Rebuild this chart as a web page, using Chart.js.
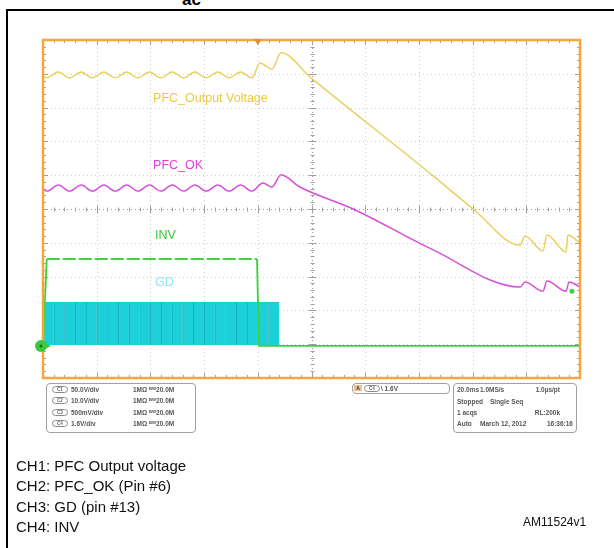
<!DOCTYPE html>
<html>
<head>
<meta charset="utf-8">
<script src="https://cdn.jsdelivr.net/npm/chart.js@4.4.1/dist/chart.umd.min.js"></script>
<style>
  html, body { margin: 0; padding: 0; background: #fff; }
  #page { position: relative; width: 614px; height: 548px; overflow: hidden; font-family: "Liberation Sans", Arial, sans-serif; }
  #scope { position: absolute; left: 0; top: 0; }
  .rule { position: absolute; background: #000; }
  .box { position: absolute; border: 1.5px solid #a0a0a0; border-radius: 4px; box-sizing: border-box; }
  .tiny { position: absolute; font-size: 6.5px; font-weight: bold; color: #555; white-space: nowrap; line-height: 7px; }
  .pill { position: absolute; width: 16px; height: 7px; border: 1px solid #8a8a8a; border-radius: 4px; box-sizing: border-box;
          font-size: 4.5px; font-weight: bold; color: #666; line-height: 5px; text-align: center; }
  .note { position: absolute; left: 16px; font-size: 15px; color: #111; white-space: nowrap; line-height: 20px; }
</style>
</head>
<body>
<div id="page">
  <div class="rule" style="left:6px; top:9px; width:608px; height:2px;"></div>
  <div class="rule" style="left:6px; top:9px; width:2px; height:539px;"></div>
  <div style="position:absolute; left:182px; top:-9px; font-size:17px; font-weight:bold; line-height:17px;">ac</div>

  <canvas id="scope" width="614" height="548"></canvas>

  <!-- channel settings -->
  <div class="box" style="left:46px; top:383px; width:150px; height:50px;"></div>
  <div class="pill" style="left:52px; top:386px;">C1</div>
  <div class="pill" style="left:52px; top:397px;">C2</div>
  <div class="pill" style="left:52px; top:409px;">C3</div>
  <div class="pill" style="left:52px; top:420px;">C4</div>
  <div class="tiny" style="left:71px; top:386px;">50.0V/div</div>
  <div class="tiny" style="left:71px; top:397px;">10.0V/div</div>
  <div class="tiny" style="left:71px; top:409px;">500mV/div</div>
  <div class="tiny" style="left:71px; top:420px;">1.6V/div</div>
  <div class="tiny" style="left:133px; top:386px;">1MΩ ᴮᵂ20.0M</div>
  <div class="tiny" style="left:133px; top:397px;">1MΩ ᴮᵂ20.0M</div>
  <div class="tiny" style="left:133px; top:409px;">1MΩ ᴮᵂ20.0M</div>
  <div class="tiny" style="left:133px; top:420px;">1MΩ ᴮᵂ20.0M</div>

  <!-- trigger -->
  <div class="box" style="left:352px; top:383px; width:98px; height:11px;"></div>
  <div class="tiny" style="left:354px; top:385px; width:8px; height:6px; background:#f0c090; color:#333; text-align:center; line-height:6px; font-size:5px;">A</div>
  <div class="pill" style="left:364px; top:385px;">C4</div>
  <div class="tiny" style="left:381px; top:385px;">\ 1.6V</div>

  <!-- acquisition -->
  <div class="box" style="left:453px; top:383px; width:124px; height:50px;"></div>
  <div class="tiny" style="left:457px; top:386px;">20.0ms</div>
  <div class="tiny" style="left:480px; top:386px;">1.0MS/s</div>
  <div class="tiny" style="left:535px; top:386px; width:25px; text-align:right;">1.0µs/pt</div>
  <div class="tiny" style="left:457px; top:398px;">Stopped</div>
  <div class="tiny" style="left:490px; top:398px;">Single Seq</div>
  <div class="tiny" style="left:457px; top:409px;">1 acqs</div>
  <div class="tiny" style="left:530px; top:409px; width:30px; text-align:right;">RL:200k</div>
  <div class="tiny" style="left:457px; top:420px;">Auto</div>
  <div class="tiny" style="left:480px; top:420px;">March 12, 2012</div>
  <div class="tiny" style="left:543px; top:420px; width:30px; text-align:right;">16:36:16</div>

  <div class="note" style="top:456px;">CH1: PFC Output voltage</div>
  <div class="note" style="top:476px;">CH2: PFC_OK (Pin #6)</div>
  <div class="note" style="top:497px;">CH3: GD (pin #13)</div>
  <div class="note" style="top:517px;">CH4: INV</div>
  <div style="position:absolute; left:523px; top:515px; font-size:12px; line-height:14px; color:#111;">AM11524v1</div>
</div>

<script>
// time in ms (20 ms/div, trigger at 0), levels in screen divisions (0 = centre line)
const ch1Time = [-80, -78.6, -74.3, -70.1, -65.8, -61.6, -57.3, -53.1, -48.8, -44.7, -40.3, -36.2, -31.8,
                 -27.7, -23.4, -19.2, -14.9, -10.7, -6.4, -2.2, 0.8, 5.3, 8.6, 19.8, 65.3, 80.2, 97.7,
                 99.5, 106.2, 107.7, 114.8, 115.5, 120];
const ch1Div  = [3.93, 3.88, 4.05, 3.88, 4.05, 3.88, 4.05, 3.88, 4.05, 3.88, 4.05, 3.88, 4.05,
                 3.88, 4.05, 3.88, 4.05, 3.88, 4.05, 3.88, 4.32, 4.14, 4.62, 3.88, 0.98, 0, -1.07,
                 -0.80, -1.24, -0.77, -1.27, -0.77, -1.01];

const ch2Time = [-80, -78.6, -74.3, -70.1, -65.8, -61.6, -57.3, -53.1, -48.8, -44.7, -40.3, -36.2, -31.8,
                 -27.7, -23.4, -19.2, -14.9, -10.7, -6.4, -2.2, 1.9, 5.3, 8.6, 15.7, 35.5, 65.3, 97.7,
                 99.5, 106.2, 107.7, 114.8, 115.9, 120];
const ch2Div  = [0.60, 0.53, 0.71, 0.53, 0.71, 0.53, 0.71, 0.53, 0.71, 0.53, 0.71, 0.53, 0.71,
                 0.53, 0.71, 0.53, 0.71, 0.53, 0.71, 0.53, 0.77, 0.65, 1.01, 0.65, 0, -1.21, -2.31,
                 -2.16, -2.43, -2.13, -2.43, -2.16, -2.31];

const ch3Time = [-78, -74, -70, -66, -62, -58, -54, -50, -46, -42, -38, -34, -30, -26, -22, -18, -14, -10, -6, -2, 2, 6];
const ch3Low = -4.02;
const ch3High = -2.75;

const ch4Time = [-80, -78.6, -0.3, 0.4, 120];
const ch4Div  = [-4.05, -1.48, -1.48, -4.05, -4.05];

const xTicks = [-80, -60, -40, -20, 0, 20, 40, 60, 80, 100, 120];
const yTicks = [-5, -4, -3, -2, -1, 0, 1, 2, 3, 4, 5];

const pts = (xs, ys) => xs.map((t, i) => ({ x: t, y: ys[i] }));

const traceLabels = [
  { text: 'PFC_Output Voltage', x: -39, y: 3.28, color: '#EDC845' },
  { text: 'PFC_OK', x: -39, y: 1.30, color: '#DA3FDA' },
  { text: 'INV', x: -38.3, y: -0.80, color: '#3CC43C' },
  { text: 'GD', x: -38.3, y: -2.19, color: '#8FE6EE' }
];

const scopeFrame = {
  id: 'scopeFrame',
  beforeDatasetsDraw(chart) {
    const { ctx, chartArea: a, scales: { x, y } } = chart;
    const line = (x1, y1, x2, y2) => { ctx.beginPath(); ctx.moveTo(x1, y1); ctx.lineTo(x2, y2); ctx.stroke(); };
    ctx.save();
    ctx.lineWidth = 1;
    ctx.strokeStyle = 'rgba(170,170,170,0.55)';
    ctx.setLineDash([1, 3]);
    xTicks.slice(1, -1).forEach(t => { const p = Math.round(x.getPixelForValue(t)) + 0.5; line(p, a.top, p, a.bottom); });
    yTicks.slice(1, -1).forEach(v => { const p = Math.round(y.getPixelForValue(v)) + 0.5; line(a.left, p, a.right, p); });
    // centre cross
    ctx.strokeStyle = 'rgba(140,140,140,0.8)';
    const cx = Math.round(x.getPixelForValue(20)) + 0.5;
    const cy = Math.round(y.getPixelForValue(0)) + 0.5;
    line(cx, a.top, cx, a.bottom);
    line(a.left, cy, a.right, cy);
    ctx.setLineDash([]);
    ctx.strokeStyle = 'rgba(150,150,150,0.9)';
    for (let t = -80; t <= 120; t += 4) {
      const p = Math.round(x.getPixelForValue(t)) + 0.5;
      const major = (t + 80) % 20 === 0;
      line(p, cy - (major ? 4 : 2), p, cy + (major ? 4 : 2));
      line(p, a.top, p, a.top + (major ? 5 : 3));
      line(p, a.bottom, p, a.bottom - (major ? 5 : 3));
    }
    for (let v = -5; v <= 5.001; v += 0.2) {
      const p = Math.round(y.getPixelForValue(v)) + 0.5;
      const major = Math.abs(v - Math.round(v)) < 0.01;
      line(cx - (major ? 4 : 2), p, cx + (major ? 4 : 2), p);
      line(a.left, p, a.left + (major ? 5 : 3), p);
      line(a.right, p, a.right - (major ? 5 : 3), p);
    }
    ctx.restore();
  },
  afterDatasetsDraw(chart) {
    const { ctx, chartArea: a, scales: { x, y } } = chart;
    ctx.save();
    ctx.strokeStyle = '#F3A73C';
    ctx.lineWidth = 2.5;
    ctx.strokeRect(a.left, a.top, a.right - a.left, a.bottom - a.top);
    // trigger position
    const tx = x.getPixelForValue(0);
    ctx.fillStyle = '#E8902A';
    ctx.beginPath();
    ctx.moveTo(tx - 4, a.top - 1); ctx.lineTo(tx + 4, a.top - 1); ctx.lineTo(tx, a.top + 5);
    ctx.fill();
    // ground marker of CH4
    const gy = y.getPixelForValue(-4.05);
    ctx.fillStyle = '#3CC83C';
    ctx.beginPath(); ctx.arc(a.left - 2, gy, 6, 0, Math.PI * 2); ctx.fill();
    ctx.beginPath(); ctx.moveTo(a.left + 2, gy - 3); ctx.lineTo(a.left + 8, gy); ctx.lineTo(a.left + 2, gy + 3); ctx.fill();
    ctx.fillStyle = '#1d6e1d';
    ctx.beginPath(); ctx.arc(a.left - 2, gy, 1.5, 0, Math.PI * 2); ctx.fill();
    // trigger level dot
    ctx.fillStyle = '#3CD23C';
    ctx.beginPath(); ctx.arc(x.getPixelForValue(117), y.getPixelForValue(-2.43), 2.5, 0, Math.PI * 2); ctx.fill();
    // trace names
    ctx.font = '12.5px "Liberation Sans", Arial, sans-serif';
    ctx.textBaseline = 'middle';
    traceLabels.forEach(l => {
      ctx.fillStyle = l.color;
      ctx.fillText(l.text, x.getPixelForValue(l.x), y.getPixelForValue(l.y));
    });
    ctx.restore();
  }
};

new Chart(document.getElementById('scope'), {
  type: 'line',
  data: {
    datasets: [
      {
        type: 'bar',
        label: 'CH3: GD',
        data: ch3Time.map(t => ({ x: t, y: [ch3Low, ch3High] })),
        backgroundColor: '#1CCFD9',
        borderColor: '#12B0BD',
        borderWidth: { left: 1, right: 0, top: 0, bottom: 0 },
        borderSkipped: false,
        barPercentage: 1,
        categoryPercentage: 1,
        grouped: false,
        order: 4
      },
      {
        label: 'CH4: INV',
        data: pts(ch4Time, ch4Div),
        borderColor: '#3DD13D',
        borderWidth: 1.8,
        pointRadius: 0,
        tension: 0,
        segment: {
          borderDash: c => (c.p0.parsed.y > -3 && c.p1.parsed.y > -3 ? [13, 3] : undefined)
        },
        order: 1
      },
      {
        label: 'CH1: PFC Output voltage',
        data: pts(ch1Time, ch1Div),
        borderColor: '#E8D060',
        borderWidth: 1.5,
        pointRadius: 0,
        cubicInterpolationMode: 'monotone',
        order: 2
      },
      {
        label: 'CH2: PFC_OK',
        data: pts(ch2Time, ch2Div),
        borderColor: '#D850D8',
        borderWidth: 1.5,
        pointRadius: 0,
        cubicInterpolationMode: 'monotone',
        order: 3
      }
    ]
  },
  options: {
    responsive: false,
    animation: false,
    layout: { padding: { left: 43, top: 40, right: 34, bottom: 170 } },
    scales: {
      x: { type: 'linear', min: -80, max: 120, offset: false, display: false, grid: { offset: false }, ticks: { stepSize: 20 } },
      y: { type: 'linear', min: -5, max: 5, display: false }
    },
    plugins: { legend: { display: false }, tooltip: { enabled: false } }
  },
  plugins: [scopeFrame]
});
</script>
</body>
</html>
